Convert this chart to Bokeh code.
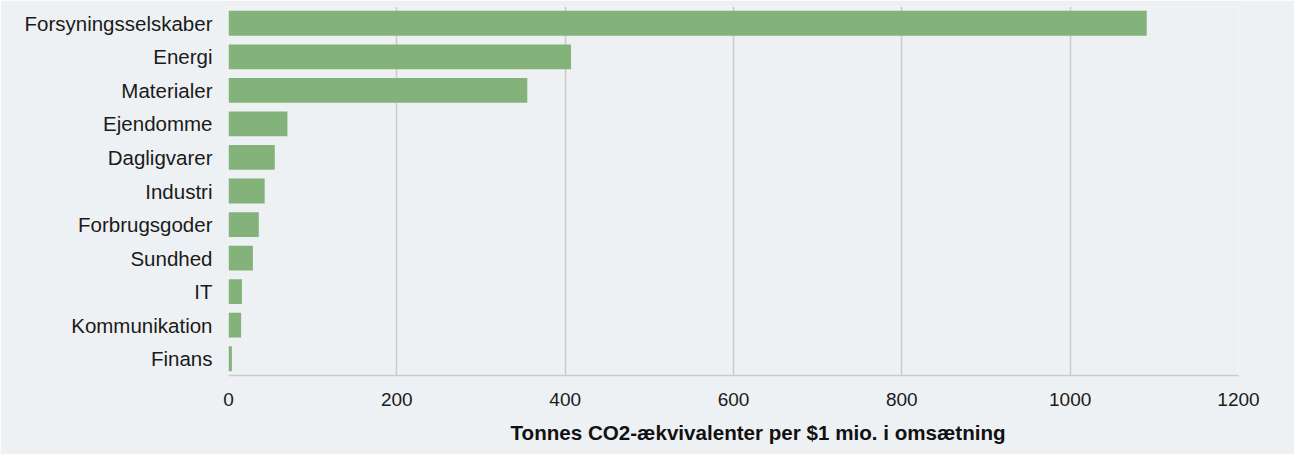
from bokeh.plotting import figure
from bokeh.models import FactorRange, Range1d, ColumnDataSource, FixedTicker, Title
from bokeh.embed import file_html
from bokeh.resources import INLINE

categories = ["Forsyningsselskaber", "Energi", "Materialer", "Ejendomme", "Dagligvarer",
              "Industri", "Forbrugsgoder", "Sundhed", "IT", "Kommunikation", "Finans"]
values = [1091, 407, 355, 70, 55, 43, 36, 29, 16, 15, 4]
x_ticks = [0, 200, 400, 600, 800, 1000, 1200]
x_title = "Tonnes CO2-ækvivalenter per $1 mio. i omsætning"

BG = "#eef1f3"
FONT = "Liberation Sans"

src = ColumnDataSource(dict(cat=categories, val=values))

p = figure(width=1294, height=454, output_backend="svg", toolbar_location=None,
           y_range=FactorRange(factors=categories[::-1]), x_range=Range1d(0, 1200),
           min_border_left=228, min_border_right=56, min_border_top=6, min_border_bottom=79)

p.hbar(y="cat", right="val", left=0, height=0.74, source=src, color="#83b37b", line_color=None)

p.background_fill_color = BG
p.border_fill_color = BG
p.outline_line_color = None

p.ygrid.grid_line_color = None
p.xgrid.grid_line_color = "#c9cbcc"
p.xgrid.grid_line_width = 1.5
p.xaxis.ticker = FixedTicker(ticks=x_ticks)

p.xaxis.axis_line_color = "#c9cbcc"
p.xaxis.axis_line_width = 1.5
p.xaxis.major_tick_line_color = None
p.xaxis.minor_tick_line_color = None
p.xaxis.major_label_text_font = FONT
p.xaxis.major_label_text_font_size = "19px"
p.xaxis.major_label_text_color = "#1a1a1a"
p.xaxis.major_label_standoff = 11

title = Title(text=x_title, align="left", offset=282, standoff=21,
              vertical_align="bottom", text_line_height=1.0,
              text_font=FONT, text_font_size="20.6px", text_font_style="bold",
              text_color="#111111")
p.add_layout(title, "below")

p.yaxis.axis_line_color = None
p.yaxis.major_tick_line_color = None
p.yaxis.minor_tick_line_color = None
p.yaxis.major_label_text_font = FONT
p.yaxis.major_label_text_font_size = "20.5px"
p.yaxis.major_label_text_color = "#1a1a1a"
p.yaxis.major_label_standoff = 10

open("out.html", "w").write(file_html(p, INLINE))
